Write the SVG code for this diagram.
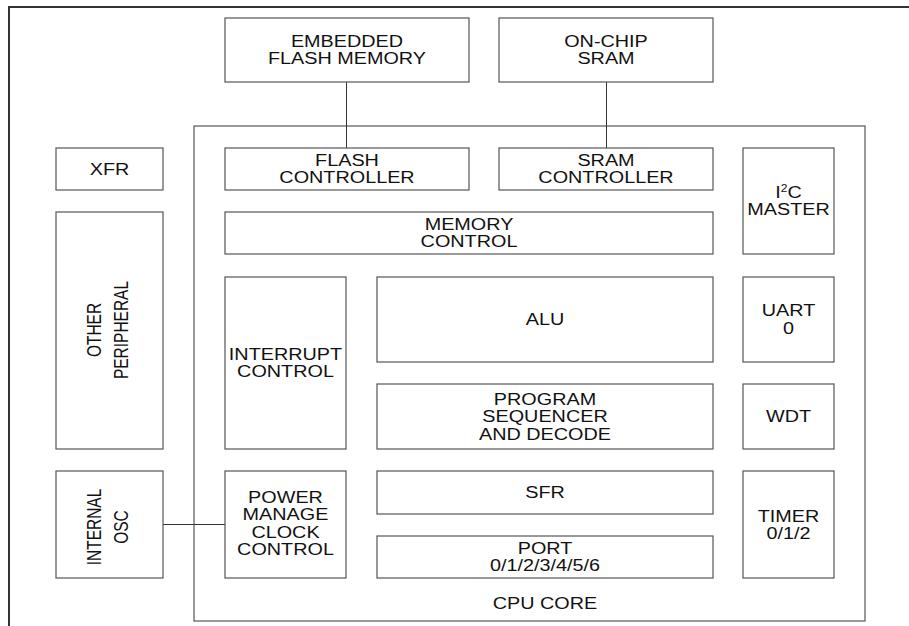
<svg xmlns="http://www.w3.org/2000/svg" width="909" height="626" viewBox="0 0 909 626">
<style>
.box{fill:#fff;stroke:#555;stroke-width:1.2}
.frame{fill:none;stroke:#333;stroke-width:2}
.conn{fill:none;stroke:#333;stroke-width:1}
text{font-family:"Liberation Sans",Arial,sans-serif;font-size:16.5px;fill:#111;text-anchor:middle}
.rt{font-size:15.5px}
</style>
<rect width="909" height="626" fill="#fff"/>
<path class="frame" d="M9,626 V7 H909"/>
<g id="cpu-core"><rect class="box" x="194" y="126" width="671" height="495"/><text transform="matrix(1.2 0 0 1 545 0)" y="609">CPU CORE</text></g>
<g id="connectors">
<line class="conn" x1="346.5" y1="82" x2="346.5" y2="148"/>
<line class="conn" x1="606.5" y1="82" x2="606.5" y2="148"/>
<line class="conn" x1="163" y1="524.5" x2="225" y2="524.5"/>
</g>
<g id="flash-memory"><rect class="box" x="225" y="18" width="244" height="64"/><text transform="matrix(1.2 0 0 1 347 0)"><tspan x="0" y="47">EMBEDDED</tspan><tspan x="0" y="64.5">FLASH MEMORY</tspan></text></g>
<g id="sram"><rect class="box" x="499" y="18" width="214" height="64"/><text transform="matrix(1.2 0 0 1 606 0)"><tspan x="0" y="47">ON-CHIP</tspan><tspan x="0" y="64.5">SRAM</tspan></text></g>
<g id="flash-controller"><rect class="box" x="225" y="148" width="244" height="42"/><text transform="matrix(1.2 0 0 1 347 0)"><tspan x="0" y="166">FLASH</tspan><tspan x="0" y="183.5">CONTROLLER</tspan></text></g>
<g id="sram-controller"><rect class="box" x="499" y="148" width="214" height="42"/><text transform="matrix(1.2 0 0 1 606 0)"><tspan x="0" y="166">SRAM</tspan><tspan x="0" y="183.5">CONTROLLER</tspan></text></g>
<g id="memory-control"><rect class="box" x="225" y="212" width="488" height="42"/><text transform="matrix(1.2 0 0 1 469 0)"><tspan x="0" y="230">MEMORY</tspan><tspan x="0" y="247.5">CONTROL</tspan></text></g>
<g id="interrupt-control"><rect class="box" x="225" y="277" width="121" height="172"/><text transform="matrix(1.2 0 0 1 285.5 0)"><tspan x="0" y="360">INTERRUPT</tspan><tspan x="0" y="377.5">CONTROL</tspan></text></g>
<g id="alu"><rect class="box" x="377" y="277" width="336" height="85"/><text transform="matrix(1.2 0 0 1 545 0)" y="325.5">ALU</text></g>
<g id="program-sequencer"><rect class="box" x="377" y="384" width="336" height="65"/><text transform="matrix(1.2 0 0 1 545 0)"><tspan x="0" y="405">PROGRAM</tspan><tspan x="0" y="422.5">SEQUENCER</tspan><tspan x="0" y="440">AND DECODE</tspan></text></g>
<g id="power-manage"><rect class="box" x="225" y="471" width="121" height="107"/><text transform="matrix(1.2 0 0 1 285.5 0)"><tspan x="0" y="503">POWER</tspan><tspan x="0" y="520.5">MANAGE</tspan><tspan x="0" y="538">CLOCK</tspan><tspan x="0" y="555.5">CONTROL</tspan></text></g>
<g id="sfr"><rect class="box" x="377" y="471" width="336" height="43"/><text transform="matrix(1.2 0 0 1 545 0)" y="498.5">SFR</text></g>
<g id="port"><rect class="box" x="377" y="536" width="336" height="42"/><text transform="matrix(1.2 0 0 1 545 0)"><tspan x="0" y="554">PORT</tspan><tspan x="0" y="571.5">0/1/2/3/4/5/6</tspan></text></g>
<g id="i2c-master"><rect class="box" x="743" y="148" width="91" height="106"/><text transform="matrix(1.2 0 0 1 788.5 0)"><tspan x="0" y="198">I<tspan font-size="10" dy="-6">2</tspan><tspan dy="6">C</tspan></tspan><tspan x="0" y="215.5">MASTER</tspan></text></g>
<g id="uart0"><rect class="box" x="743" y="277" width="91" height="85"/><text transform="matrix(1.2 0 0 1 788.5 0)"><tspan x="0" y="316.5">UART</tspan><tspan x="0" y="334">0</tspan></text></g>
<g id="wdt"><rect class="box" x="743" y="384" width="91" height="65"/><text transform="matrix(1.2 0 0 1 788.5 0)" y="422.5">WDT</text></g>
<g id="timer"><rect class="box" x="743" y="471" width="91" height="107"/><text transform="matrix(1.2 0 0 1 788.5 0)"><tspan x="0" y="521.5">TIMER</tspan><tspan x="0" y="539">0/1/2</tspan></text></g>
<g id="xfr"><rect class="box" x="56" y="148" width="107" height="42"/><text transform="matrix(1.2 0 0 1 109.5 0)" y="175">XFR</text></g>
<g id="other-peripheral"><rect class="box" x="56" y="212" width="107" height="237"/><text class="rt" transform="translate(107 330) scale(1.35 1) rotate(-90)"><tspan x="0" y="-4.4">OTHER</tspan><tspan x="0" y="15.6">PERIPHERAL</tspan></text></g>
<g id="internal-osc"><rect class="box" x="56" y="471" width="107" height="107"/><text class="rt" transform="translate(107 527) scale(1.35 1) rotate(-90)"><tspan x="0" y="-4.4">INTERNAL</tspan><tspan x="0" y="15.6">OSC</tspan></text></g>
</svg>
